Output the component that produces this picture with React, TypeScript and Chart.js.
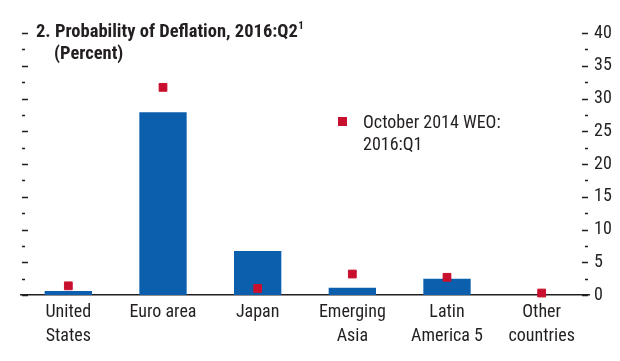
import React, { useEffect, useRef } from 'react';
import { Chart, registerables } from 'chart.js';

Chart.register(...registerables);

// ---- data ----
const categories: string[][] = [
  ['United', 'States'],
  ['Euro area'],
  ['Japan'],
  ['Emerging', 'Asia'],
  ['Latin', 'America 5'],
  ['Other', 'countries'],
];
const deflation2016Q2: number[] = [0.6, 27.9, 6.7, 1.1, 2.5, 0];
const october2014WEO: number[] = [1.4, 31.7, 1.0, 3.2, 2.7, 0.3];
const yMin = 0;
const yMax = 40;
const yStep = 5;
const yMinorStep = 2.5;
const titleText = '2. Probability of Deflation, 2016:Q2';
const titleNote = '1';
const subtitleText = '(Percent)';
const legendLines: string[] = ['October 2014 WEO:', '2016:Q1'];

// ---- styles ----
const FONT = "'Roboto Condensed', 'Open Sans Condensed', sans-serif";
const TEXT = '#231f20';
const BLUE = '#0b5fad';
const RED = '#c8102e';

const decorPlugin = {
  id: 'decor',
  beforeDatasetsDraw(chart: any) {
    const { ctx, chartArea, scales } = chart;
    const y = scales.y;
    ctx.save();
    ctx.strokeStyle = TEXT;
    ctx.lineWidth = 1.5;
    for (let v = yMin; v <= yMax + 1e-9; v += yMinorStep) {
      const py = Math.round(y.getPixelForValue(v)) + 0.5;
      const major = Math.abs(v / yStep - Math.round(v / yStep)) < 1e-6;
      const len = major ? 6 : 3;
      ctx.beginPath();
      ctx.moveTo(chartArea.left + 1, py);
      ctx.lineTo(chartArea.left + 1 + len, py);
      ctx.moveTo(chartArea.right - 1, py);
      ctx.lineTo(chartArea.right - 1 - len, py);
      ctx.stroke();
    }
    ctx.restore();
  },
  afterDraw(chart: any) {
    const { ctx } = chart;
    ctx.save();
    ctx.fillStyle = TEXT;
    ctx.textBaseline = 'alphabetic';
    ctx.textAlign = 'left';
    // title
    ctx.font = `bold 18.5px ${FONT}`;
    ctx.fillText(titleText, 36, 37);
    const w = ctx.measureText(titleText).width;
    ctx.font = `bold 11px ${FONT}`;
    ctx.fillText(titleNote, 36 + w + 0.5, 29);
    ctx.font = `bold 18.5px ${FONT}`;
    ctx.fillText(subtitleText, 54, 59);
    // legend
    ctx.fillStyle = RED;
    ctx.fillRect(338, 117, 9, 9);
    ctx.fillStyle = TEXT;
    ctx.font = `18px ${FONT}`;
    legendLines.forEach((line, i) => ctx.fillText(line, 363, 128 + i * 22));
    ctx.restore();
  },
};

export default function App() {
  const ref = useRef<HTMLCanvasElement>(null);
  useEffect(() => {
    document.body.style.margin = '0';
    const chart = new Chart(ref.current as HTMLCanvasElement, {
      type: 'bar',
      data: {
        labels: categories,
        datasets: [
          {
            type: 'line',
            label: legendLines.join(' '),
            data: october2014WEO,
            showLine: false,
            pointStyle: 'rect',
            pointRadius: 5.5,
            pointBorderWidth: 1,
            pointBackgroundColor: RED,
            pointBorderColor: RED,
            order: 0,
            clip: false,
          } as any,
          {
            type: 'bar',
            label: '2016:Q2',
            data: deflation2016Q2,
            backgroundColor: BLUE,
            categoryPercentage: 1,
            barPercentage: 0.5,
            order: 1,
          },
        ],
      },
      options: {
        responsive: false,
        animation: false,
        layout: { padding: { left: 21, top: 33, right: 0, bottom: 0 } },
        plugins: {
          legend: { display: false },
          tooltip: { enabled: false },
          title: { display: false },
        },
        scales: {
          x: {
            grid: { display: false, drawTicks: false },
            border: { display: true, color: TEXT, width: 1.5 },
            ticks: {
              color: TEXT,
              font: { family: FONT, size: 18, lineHeight: 1.3 },
              padding: 6,
              maxRotation: 0,
              autoSkip: false,
            },
            afterFit(scale: any) {
              scale.height = 66;
            },
          },
          y: {
            position: 'right',
            min: yMin,
            max: yMax,
            grid: { display: false, drawTicks: false },
            border: { display: false },
            ticks: {
              stepSize: yStep,
              color: TEXT,
              font: { family: FONT, size: 18 },
              padding: 5,
            },
            afterFit(scale: any) {
              scale.width = 31;
            },
          },
        },
      },
      plugins: [decorPlugin],
    });
    return () => chart.destroy();
  }, []);
  return <canvas ref={ref} width={620} height={361} style={{ display: 'block' }} />;
}
